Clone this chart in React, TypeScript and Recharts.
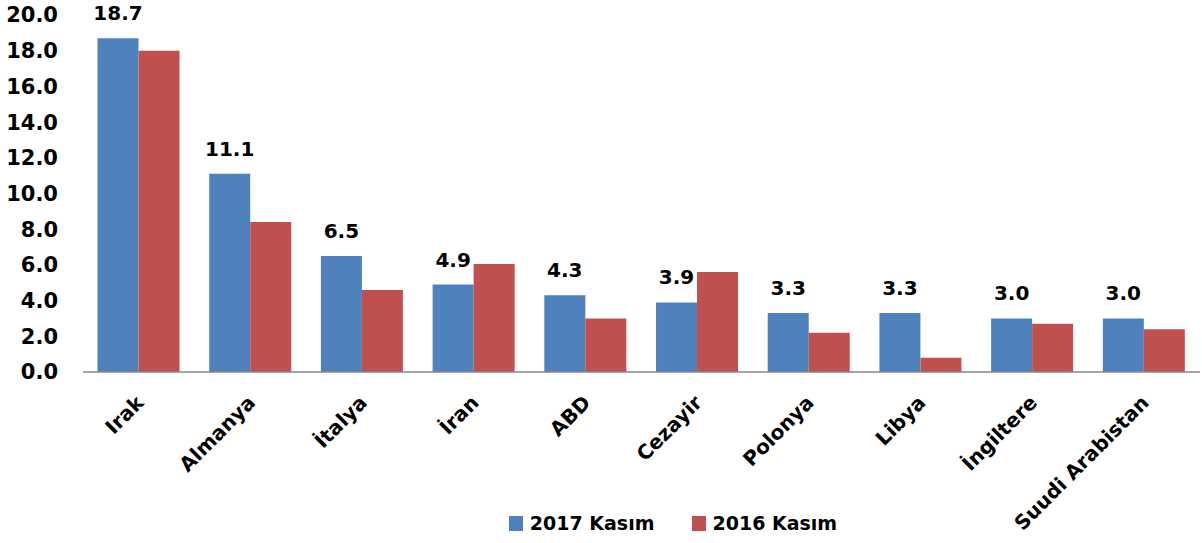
import React from 'react';
import { BarChart, Bar, XAxis, YAxis, Legend, LabelList } from 'recharts';

const countries = ['Irak', 'Almanya', 'İtalya', 'İran', 'ABD', 'Cezayir', 'Polonya', 'Libya', 'İngiltere', 'Suudi Arabistan'];
const kasim2017 = [18.7, 11.1, 6.5, 4.9, 4.3, 3.9, 3.3, 3.3, 3.0, 3.0];
const kasim2016 = [18.0, 8.4, 4.6, 6.05, 3.0, 5.6, 2.2, 0.8, 2.7, 2.4];
const yTicks = [0, 2, 4, 6, 8, 10, 12, 14, 16, 18, 20];

const FONT = '"DejaVu Sans", sans-serif';
const BLUE = '#4F81BD';
const RED = '#C0504D';

const data = countries.map((c, i) => ({ name: c, y2017: kasim2017[i], y2016: kasim2016[i] }));

const AngledTick = (props: any) => {
    const { x, y, payload } = props;
    return (
        <g transform={`translate(${x + 6},${y + 24})`}>
            <text textAnchor="end" transform="rotate(-45)" fontFamily={FONT} fontWeight="bold" fontSize={20} fill="#000">
                {payload.value}
            </text>
        </g>
    );
};

const LegendBox = () => (
    <div style={{ display: 'flex', justifyContent: 'center', paddingLeft: 146, height: 30, alignItems: 'center', fontFamily: FONT, fontWeight: 'bold', fontSize: 19 }}>
        <span style={{ display: 'inline-block', width: 14, height: 15, background: BLUE, marginRight: 7 }} />
        <span style={{ marginRight: 37 }}>2017 Kasım</span>
        <span style={{ display: 'inline-block', width: 14, height: 15, background: RED, marginRight: 7 }} />
        <span>2016 Kasım</span>
    </div>
);

export default function App() {
    return (
        <div style={{ position: 'absolute', left: 0, top: 0, background: '#fff' }}>
            <BarChart width={1202} height={543} data={data} margin={{ top: 15, right: 2, left: 0, bottom: 5 }} barCategoryGap="13%" barGap={0}>
                <XAxis dataKey="name" interval={0} height={136} tick={<AngledTick />} tickLine={false} axisLine={{ stroke: '#888', strokeWidth: 1.5 }} />
                <YAxis width={83} domain={[0, 20]} ticks={yTicks} interval={0} axisLine={false} tickLine={false} tickSize={0} tickMargin={25}
                    tickFormatter={(v: number) => v.toFixed(1)}
                    tick={{ fontFamily: FONT, fontWeight: 'bold', fontSize: 21, fill: '#000' }} />
                <Legend verticalAlign="bottom" height={30} content={<LegendBox />} />
                <Bar dataKey="y2017" fill={BLUE} isAnimationActive={false}>
                    <LabelList dataKey="y2017" position="top" offset={18} formatter={(v: any) => Number(v).toFixed(1)}
                        style={{ fontFamily: FONT, fontWeight: 'bold', fontSize: 20, fill: '#000' }} />
                </Bar>
                <Bar dataKey="y2016" fill={RED} isAnimationActive={false} />
            </BarChart>
        </div>
    );
}
